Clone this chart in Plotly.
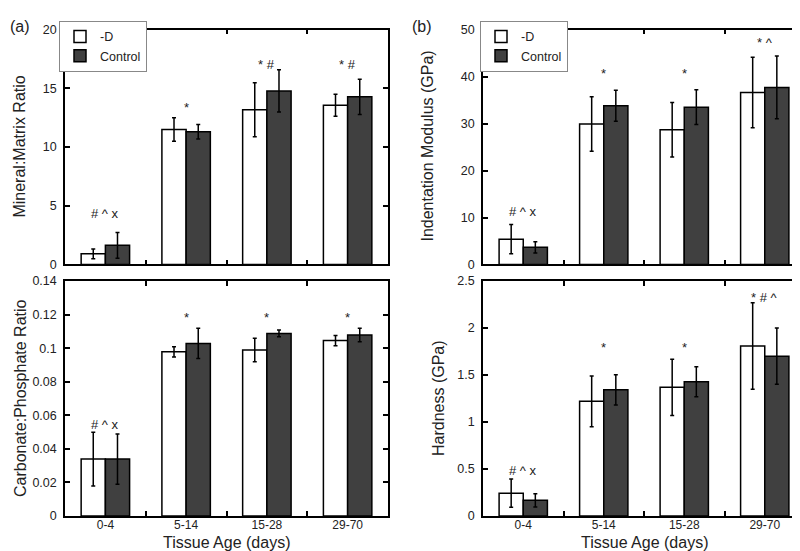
import plotly.graph_objects as go

categories = ["0-4", "5-14", "15-28", "29-70"]

# Mineral:Matrix Ratio
mm_minusD = [0.91, 11.49, 13.18, 13.56]
mm_minusD_err = [0.42, 1.0, 2.3, 0.93]
mm_control = [1.63, 11.3, 14.78, 14.28]
mm_control_err = [1.1, 0.62, 1.8, 1.5]
mm_sig = ["# ^ x", "*", "* #", "* #"]
mm_sig_y = [4.3, 13.4, 17.0, 17.0]

# Indentation Modulus (GPa)
im_minusD = [5.39, 29.9, 28.66, 36.6]
im_minusD_err = [3.1, 5.8, 5.8, 7.5]
im_control = [3.66, 33.8, 33.5, 37.7]
im_control_err = [1.2, 3.3, 3.7, 6.7]
im_sig = ["# ^ x", "*", "*", "* ^"]
im_sig_y = [11.3, 40.6, 40.6, 47.2]

# Carbonate:Phosphate Ratio
cp_minusD = [0.0339, 0.0978, 0.0989, 0.1045]
cp_minusD_err = [0.016, 0.003, 0.007, 0.003]
cp_control = [0.0339, 0.1028, 0.1088, 0.1078]
cp_control_err = [0.015, 0.009, 0.002, 0.004]
cp_sig = ["# ^ x", "*", "*", "*"]
cp_sig_y = [0.0544, 0.1183, 0.1183, 0.1183]

# Hardness (GPa)
h_minusD = [0.242, 1.22, 1.369, 1.808]
h_minusD_err = [0.15, 0.27, 0.3, 0.46]
h_control = [0.166, 1.342, 1.428, 1.701]
h_control_err = [0.07, 0.16, 0.16, 0.3]
h_sig = ["# ^ x", "*", "*", "* # ^"]
h_sig_y = [0.48, 1.79, 1.79, 2.33]

FONT = "Arial, Liberation Sans, sans-serif"
DARK = "#404040"
TXT = "#222"

fig = go.Figure()

panels = [
    ("x", "y", mm_minusD, mm_minusD_err, mm_control, mm_control_err, "legend", True),
    ("x2", "y2", im_minusD, im_minusD_err, im_control, im_control_err, "legend2", True),
    ("x3", "y3", cp_minusD, cp_minusD_err, cp_control, cp_control_err, "legend", False),
    ("x4", "y4", h_minusD, h_minusD_err, h_control, h_control_err, "legend2", False),
]

for xa, ya, d, de, c, ce, leg, sl in panels:
    fig.add_trace(go.Bar(
        x=categories, y=d, name="-D", xaxis=xa, yaxis=ya,
        marker=dict(color="white", line=dict(color="black", width=1.5)),
        error_y=dict(type="data", array=de, color="black", thickness=1.5, width=2),
        legend=leg, showlegend=sl,
    ))
    fig.add_trace(go.Bar(
        x=categories, y=c, name="Control", xaxis=xa, yaxis=ya,
        marker=dict(color=DARK, line=dict(color="black", width=1.5)),
        error_y=dict(type="data", array=ce, color="black", thickness=1.5, width=2),
        legend=leg, showlegend=sl,
    ))

for xa, ya, labels, ys in [("x", "y", mm_sig, mm_sig_y), ("x2", "y2", im_sig, im_sig_y),
                           ("x3", "y3", cp_sig, cp_sig_y), ("x4", "y4", h_sig, h_sig_y)]:
    for cat, lab, yv in zip(categories, labels, ys):
        fig.add_annotation(x=cat, y=yv, xref=xa, yref=ya, text=lab, showarrow=False,
                           font=dict(family=FONT, size=13, color=TXT))

def paper_text(px, py, text, size, angle=0, xanchor="center"):
    fig.add_annotation(x=px/800, y=1-py/551, xref="paper", yref="paper", text=text,
                       showarrow=False, textangle=angle, xanchor=xanchor, yanchor="middle",
                       font=dict(family=FONT, size=size, color=TXT))

# panel labels
paper_text(0, 12, "(a)", 16, xanchor="left")
paper_text(402, 12, "(b)", 16, xanchor="left")

# axis titles
paper_text(12, 135, "Mineral:Matrix Ratio", 16, angle=-90)
paper_text(12, 393, "Carbonate:Phosphate Ratio", 16, angle=-90)
paper_text(420, 135, "Indentation Modulus (GPa)", 16, angle=-90)
paper_text(430, 393, "Hardness (GPa)", 16, angle=-90)
paper_text(218, 541, "Tissue Age (days)", 16)
paper_text(636, 541, "Tissue Age (days)", 16)

xl = [57/800, 380/800]
xr = [475/800, 797/800]
yt = [1-256/551, 1-15/551]
yb = [1-514/551, 1-273/551]

common_x = dict(type="category", showline=True, linecolor="black", linewidth=1.5, mirror="ticks",
                ticks="inside", tickson="boundaries", ticklen=5, tickcolor="black", tickwidth=1.5,
                tickfont=dict(family=FONT, size=12, color=TXT), range=[-0.5, 3.5],
                ticklabelstandoff=-3, showgrid=False, zeroline=False)
common_y = dict(showline=True, linecolor="black", linewidth=1.5, mirror="ticks",
                ticks="inside", ticklen=5, tickcolor="black", tickwidth=1.5,
                tickfont=dict(family=FONT, size=12.5, color=TXT), ticklabelstandoff=4,
                showgrid=False, zeroline=False)

legend_common = dict(xanchor="left", yanchor="top", bgcolor="white",
                     bordercolor="#888", borderwidth=1,
                     font=dict(family=FONT, size=12.5, color=TXT), tracegroupgap=0)

fig.update_layout(
    width=800, height=551,
    margin=dict(l=0, r=0, t=0, b=0),
    paper_bgcolor="white", plot_bgcolor="white",
    barmode="group", bargap=0.4, bargroupgap=0.0,
    font=dict(family=FONT, color=TXT),
    xaxis=dict(common_x, domain=xl, anchor="y", showticklabels=False),
    yaxis=dict(common_y, domain=yt, anchor="x", range=[0, 20], dtick=5),
    xaxis2=dict(common_x, domain=xr, anchor="y2", showticklabels=False),
    yaxis2=dict(common_y, domain=yt, anchor="x2", range=[0, 50], dtick=10),
    xaxis3=dict(common_x, domain=xl, anchor="y3"),
    yaxis3=dict(common_y, domain=yb, anchor="x3", range=[0, 0.14], dtick=0.02),
    xaxis4=dict(common_x, domain=xr, anchor="y4"),
    yaxis4=dict(common_y, domain=yb, anchor="x4", range=[0, 2.5], dtick=0.5),
    legend=dict(legend_common, x=51/800, y=1-6/551),
    legend2=dict(legend_common, x=472/800, y=1-6/551),
)

fig.write_html("out.html")
